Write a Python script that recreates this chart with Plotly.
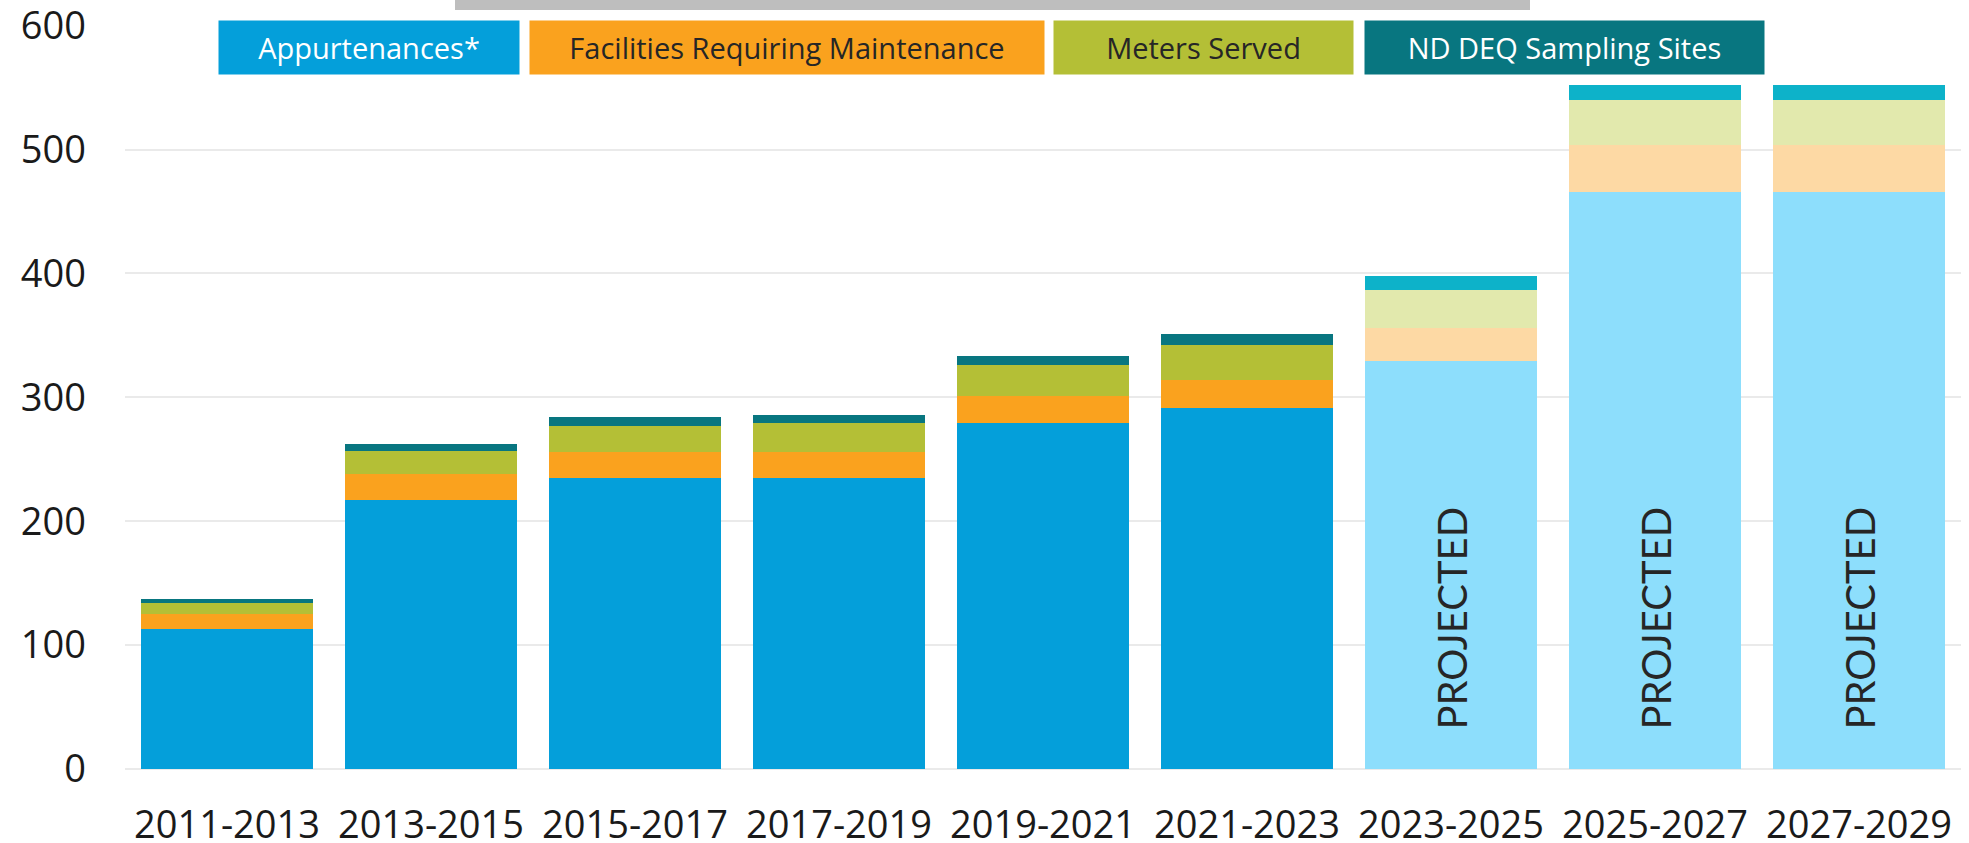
import plotly.graph_objects as go

# Biennium periods on the x axis
periods = ["2011-2013", "2013-2015", "2015-2017", "2017-2019", "2019-2021",
           "2021-2023", "2023-2025", "2025-2027", "2027-2029"]
projected = [False, False, False, False, False, False, True, True, True]

# Stacked series
appurtenances = [113, 217, 235, 235, 279, 291, 329, 466, 466]
facilities = [12, 21, 21, 21, 22, 23, 27, 38, 38]
meters = [9, 19, 21, 23, 25, 28, 31, 36, 36]
sampling_sites = [3, 5, 7, 7, 7, 9, 11, 12, 12]

y_ticks = [0, 100, 200, 300, 400, 500, 600]

# name, values, actual colour, projected colour, legend text colour
series = [
    ("Appurtenances*", appurtenances, "#049FDA", "#8DDEFC", "#FFFFFF"),
    ("Facilities Requiring Maintenance", facilities, "#FAA21E", "#FDD9A4", "#262626"),
    ("Meters Served", meters, "#B4BF36", "#E2E9AD", "#262626"),
    ("ND DEQ Sampling Sites", sampling_sites, "#087680", "#0DB2C9", "#FFFFFF"),
]

FONT = "Open Sans"

fig = go.Figure()
for name, vals, col, col_proj, _ in series:
    fig.add_trace(go.Bar(
        x=periods,
        y=vals,
        name=name,
        marker=dict(color=[col_proj if p else col for p in projected],
                    line=dict(width=0)),
        hoverinfo="x+y+name",
    ))

# plot area geometry in pixels (used for placing the legend boxes)
L, R, T, B = 125, 8, 25, 74
W, H = 1969, 843
pw, ph = W - L - R, H - T - B


def px_x(x):
    return (x - L) / pw


def px_y(y):
    return (H - B - y) / ph


# legend as coloured boxes with the label inside
legend_boxes = [(369, 300), (787, 514), (1203.5, 299), (1564.5, 399)]
annotations = []
for (cx, bw), (name, _, col, _, tcol) in zip(legend_boxes, series):
    annotations.append(dict(
        x=px_x(cx), y=px_y(47.5), xref="paper", yref="paper",
        xanchor="center", yanchor="middle",
        text=name, showarrow=False,
        width=bw, height=53, bgcolor=col, borderpad=0,
        font=dict(family=FONT, size=29, color=tcol),
    ))

# "PROJECTED" labels inside the projected bars
for per, p in zip(periods, projected):
    if p:
        annotations.append(dict(
            x=per, y=0, xref="x", yref="y",
            xanchor="center", yanchor="bottom", yshift=37,
            text="PROJECTED", textangle=-90, showarrow=False,
            font=dict(family="Lato", size=40, color="#262626"),
        ))

fig.update_layout(
    barmode="stack",
    bargap=0.16,
    width=W,
    height=H,
    margin=dict(l=L, r=R, t=T, b=B, autoexpand=False),
    paper_bgcolor="white",
    plot_bgcolor="white",
    showlegend=False,
    font=dict(family=FONT, size=38, color="#1A1A1A"),
    annotations=annotations,
    shapes=[dict(
        type="rect", xref="paper", yref="paper",
        x0=px_x(455), x1=px_x(1530), y0=px_y(10), y1=px_y(0),
        fillcolor="#BEBEBE", line=dict(width=0), layer="above",
    )],
    xaxis=dict(
        showgrid=False,
        showline=False,
        ticks="",
        automargin=False,
        ticklabelstandoff=30,
        ticklabeloverflow="allow",
        tickfont=dict(family=FONT, size=38, color="#1A1A1A"),
    ),
    yaxis=dict(
        range=[0, 600.5],
        tickvals=y_ticks,
        showgrid=True,
        gridcolor="#EAEAEA",
        gridwidth=2,
        zeroline=True,
        zerolinecolor="#EAEAEA",
        zerolinewidth=2,
        showline=False,
        ticks="",
        automargin=False,
        ticklabelstandoff=38,
        ticklabeloverflow="allow",
        tickfont=dict(family=FONT, size=38, color="#1A1A1A"),
    ),
)

# drop the default 8px page margin so the figure fills the window exactly
fig.write_html("out.html", config={"displayModeBar": False},
               post_script="document.body.style.margin='0';")
